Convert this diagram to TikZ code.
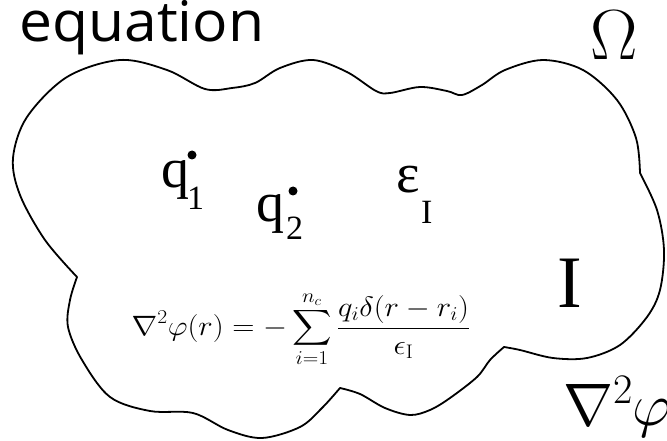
\RequirePackage{fix-cm}
\documentclass[tikz,border=0pt]{standalone}
\usepackage{amsmath}
\usepackage{fontspec}
\newfontfamily\TitleFont{Open Sans}
\newfontfamily\LabelFont{Liberation Serif}
\usetikzlibrary{positioning}

\begin{document}
\begin{tikzpicture}[x=1pt, y=-1pt, inner sep=0pt]
  \useasboundingbox (0,0) rectangle (667,441);
  \clip (0,0) rectangle (667,441);
  % outline of region I
  \draw[line width=1.8pt, line join=round]
    plot[smooth, tension=0.55] coordinates {(77,277) (45,240) (20,195) (13,158) (27,117) (67,77) (120,60) (167,70) (205,89) (232,88) (255,83) (280,68) (313,60) (347,72) (376,91) (390,93) (420,87) (447,91) (462,95) (482,85) (505,70) (543,60) (583,70) (617,100) (636,138) (640,173)}
    -- plot[smooth, tension=0.55] coordinates {(640,173) (657,210) (664,250) (660,290) (647,317) (620,345) (587,358) (553,358) (520,350) (504,347)}
    -- plot[smooth, tension=0.55] coordinates {(504,347) (490,360) (477,377) (450,398) (430,410) (410,415) (385,408) (360,394) (340,388)}
    -- plot[smooth, tension=0.55] coordinates {(340,388) (322,408) (300,427) (262,438) (228,430) (193,413) (150,411) (110,397) (82,360) (68,327) (70,300) (77,277)}
    -- cycle;

  \node[anchor=base west, xscale=1.05, font=\TitleFont\fontsize{56}{60}\selectfont] (title) at (19,42) {equation};
  \node[anchor=base, font=\fontsize{71}{74}\selectfont] (omega) at (614,60) {$\Omega$};

  % charges
  \node[anchor=base west, font=\LabelFont\fontsize{56}{60}\selectfont] (q1) at (161,188) {q};
  \node[anchor=base west, font=\LabelFont\fontsize{34}{36}\selectfont] (n1) at (187,210) {1};
  \node[circle, fill, minimum size=9pt] (dot1) at (192,155) {};
  \node[anchor=base west, font=\LabelFont\fontsize{56}{60}\selectfont] (q2) at (256,221) {q};
  \node[anchor=base west, font=\LabelFont\fontsize{34}{36}\selectfont] (n2) at (286,240) {2};
  \node[circle, fill, minimum size=9pt] (dot2) at (293,191) {};

  % permittivity
  \node[anchor=base west, font=\LabelFont\fontsize{56}{60}\selectfont] (eps) at (396,193) {ε};
  \node[anchor=base west, font=\LabelFont\fontsize{34}{36}\selectfont] (epsI) at (421,223) {I};

  \node[anchor=base, xscale=1.1, font=\fontsize{28}{30}\selectfont] (law) at (301,335)
    {$\displaystyle \nabla^2\varphi(r) = -\sum_{i=1}^{n_c} \frac{q_i\delta(r-r_i)}{\epsilon_{\mathrm{I}}}$};
  \node[anchor=base, font=\LabelFont\fontsize{74}{76}\selectfont] (region) at (570,307) {I};
  \node[anchor=base west, font=\fontsize{60}{62}\selectfont] (lap) at (563,425) {$\nabla^2\varphi$};
\end{tikzpicture}
\end{document}
